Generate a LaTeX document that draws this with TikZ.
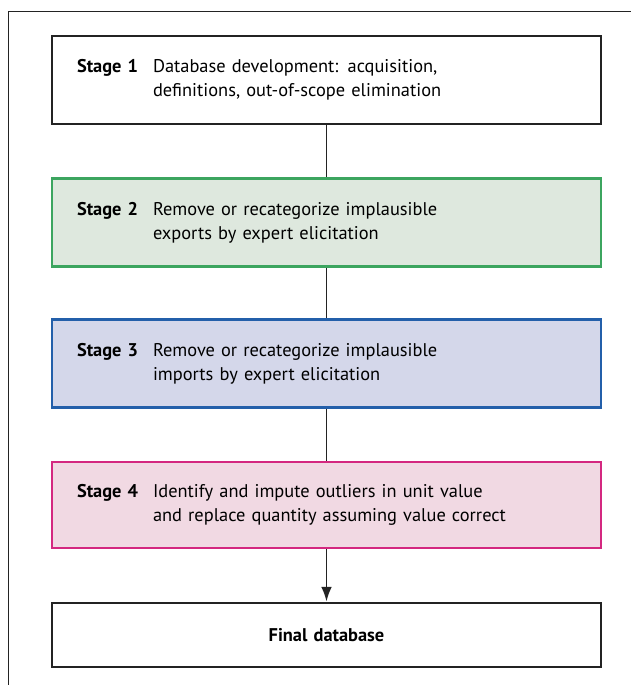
\documentclass[tikz,border=0pt]{standalone}
\usepackage{fontspec}
\setmainfont{PT Sans}
\usepackage{xcolor}
\usetikzlibrary{positioning,arrows.meta}

\definecolor{greenline}{RGB}{60,165,95}
\definecolor{greenfill}{RGB}{222,232,222}
\definecolor{blueline}{RGB}{35,95,170}
\definecolor{bluefill}{RGB}{212,215,234}
\definecolor{pinkline}{RGB}{212,40,128}
\definecolor{pinkfill}{RGB}{241,217,227}
\definecolor{darkline}{RGB}{35,35,35}

\newcommand{\stagelabel}[1]{\makebox[57pt][l]{\textbf{Stage #1}}}

\begin{document}
\begin{tikzpicture}[x=0.75pt, y=-0.75pt,
    stagebox/.style={draw=darkline, line width=2.1pt, minimum width=549*0.75pt,
        minimum height=88*0.75pt, text width=499*0.75pt, inner xsep=25*0.75pt,
        align=left, font=\fontsize{13.8}{18}\selectfont},
    link/.style={draw=darkline, line width=1.4pt}]
\useasboundingbox (0,0) rectangle (631,685);

% Open frame on top and left
\draw[darkline, line width=1pt] (8.5,685) -- (8.5,11.5) -- (631,11.5);

% Stage boxes
\node[stagebox] (stage1) at (326.5,80)
    {\stagelabel{1}\begin{tabular}[t]{@{}l@{}}Database development: acquisition,\\definitions, out-of-scope elimination\end{tabular}};
\node[stagebox, draw=greenline, fill=greenfill] (stage2) at (326.5,222.5)
    {\stagelabel{2}\begin{tabular}[t]{@{}l@{}}Remove or recategorize implausible\\exports by expert elicitation\end{tabular}};
\node[stagebox, draw=blueline, fill=bluefill] (stage3) at (326.5,363.5)
    {\stagelabel{3}\begin{tabular}[t]{@{}l@{}}Remove or recategorize implausible\\imports by expert elicitation\end{tabular}};
\node[stagebox, draw=pinkline, fill=pinkfill, minimum height=86*0.75pt] (stage4) at (326.5,505)
    {\stagelabel{4}\begin{tabular}[t]{@{}l@{}}Identify and impute outliers in unit value\\and replace quantity assuming value correct\end{tabular}};
\node[stagebox, align=center, minimum height=64*0.75pt] (final) at (326.5,635)
    {\textbf{Final database}};

% Connectors
\draw[link] (stage1) -- (stage2);
\draw[link] (stage2) -- (stage3);
\draw[link] (stage3) -- (stage4);
\draw[link, -{Latex[length=11pt,width=8pt]}] (stage4) -- (final);

\end{tikzpicture}
\end{document}
